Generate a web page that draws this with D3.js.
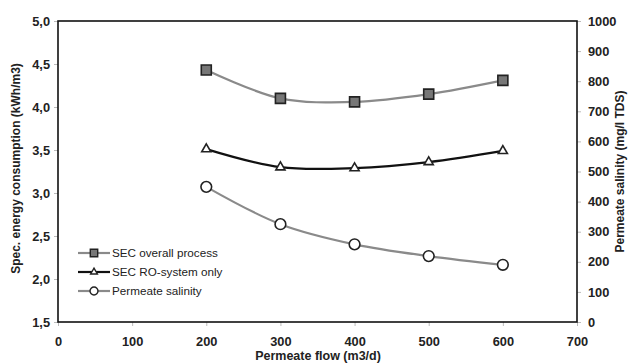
<!DOCTYPE html>
<html>
<head>
<meta charset="utf-8">
<script src="https://cdn.jsdelivr.net/npm/d3@7"></script>
<style>
  body { margin: 0; background: #fff; }
  svg { display: block; font-family: "Liberation Sans", Arial, sans-serif; }
</style>
</head>
<body>
<svg id="chart" width="631" height="363"></svg>
<script>
// data
const flow = [200, 300, 400, 500, 600];
const secOverall = [4.43, 4.10, 4.06, 4.15, 4.31];
const secRO = [3.51, 3.30, 3.29, 3.36, 3.49];
const salinity = [449, 325, 258, 219, 190];

const xTicks = [0, 100, 200, 300, 400, 500, 600, 700];
const yLeftTicks = [1.5, 2.0, 2.5, 3.0, 3.5, 4.0, 4.5, 5.0];
const yRightTicks = [0, 100, 200, 300, 400, 500, 600, 700, 800, 900, 1000];

const legendNames = ["SEC overall process", "SEC RO-system only", "Permeate salinity"];

const width = 631, height = 363;
const margin = {top: 21, right: 54, bottom: 41, left: 58};

const svg = d3.select("#chart");

const x = d3.scaleLinear().domain([0, 700]).range([margin.left, width - margin.right]);
const yL = d3.scaleLinear().domain([1.5, 5]).range([height - margin.bottom, margin.top]);
const yR = d3.scaleLinear().domain([0, 1000]).range([height - margin.bottom, margin.top]);

const fmtComma = d => d3.format(".1f")(d).replace(".", ",");

// axes
const axB = svg.append("g")
    .attr("transform", `translate(0,${height - margin.bottom})`)
    .call(d3.axisBottom(x).tickValues(xTicks).tickSize(4).tickPadding(11));
const axL = svg.append("g")
    .attr("transform", `translate(${margin.left},0)`)
    .call(d3.axisLeft(yL).tickValues(yLeftTicks).tickFormat(fmtComma).tickSize(4).tickPadding(4));
const axR = svg.append("g")
    .attr("transform", `translate(${width - margin.right},0)`)
    .call(d3.axisRight(yR).tickValues(yRightTicks).tickFormat(d3.format("d")).tickSize(4).tickPadding(7));

[axB, axL, axR].forEach(g => {
  g.select(".domain").remove();
  g.selectAll(".tick line").attr("stroke", "#bbb");
  g.selectAll(".tick text")
      .attr("font-size", 12.8)
      .attr("font-weight", "bold")
      .attr("fill", "#222");
});

// frame
svg.append("rect")
    .attr("x", margin.left)
    .attr("y", margin.top)
    .attr("width", width - margin.left - margin.right)
    .attr("height", height - margin.top - margin.bottom)
    .attr("fill", "none")
    .attr("stroke", "#111")
    .attr("stroke-width", 1.6);

// axis titles
svg.append("text")
    .attr("transform", `translate(20,${(margin.top + height - margin.bottom) / 2 - 3}) rotate(-90)`)
    .attr("text-anchor", "middle")
    .attr("font-size", 12)
    .attr("font-weight", "bold")
    .attr("fill", "#222")
    .text("Spec. energy consumption (kWh/m3)");

svg.append("text")
    .attr("transform", `translate(624,${(margin.top + height - margin.bottom) / 2}) rotate(-90)`)
    .attr("text-anchor", "middle")
    .attr("font-size", 12)
    .attr("font-weight", "bold")
    .attr("fill", "#222")
    .text("Permeate salinity (mg/l TDS)");

svg.append("text")
    .attr("x", 318)
    .attr("y", 360)
    .attr("text-anchor", "middle")
    .attr("font-size", 12.5)
    .attr("font-weight", "bold")
    .attr("fill", "#222")
    .text("Permeate flow (m3/d)");

// series
const series = [
  {vals: secOverall, y: yL, stroke: "#8a8a8a", marker: "square", fill: "#777"},
  {vals: secRO, y: yL, stroke: "#111", marker: "triangle", fill: "#fff"},
  {vals: salinity, y: yR, stroke: "#8a8a8a", marker: "circle", fill: "#fff"}
];

const symbolOf = {square: d3.symbolSquare, triangle: d3.symbolTriangle, circle: d3.symbolCircle};
const sizeOf = {square: 100, triangle: 36, circle: 90};

series.forEach(s => {
  const line = d3.line()
      .x((d, i) => x(flow[i]))
      .y(d => s.y(d))
      .curve(d3.curveCatmullRom.alpha(0.5));
  svg.append("path")
      .datum(s.vals)
      .attr("fill", "none")
      .attr("stroke", s.stroke)
      .attr("stroke-width", 2.2)
      .attr("d", line);
  svg.append("g")
      .selectAll("path")
      .data(s.vals)
      .join("path")
      .attr("transform", (d, i) => `translate(${x(flow[i])},${s.y(d)})`)
      .attr("d", d3.symbol(symbolOf[s.marker], sizeOf[s.marker]))
      .attr("fill", s.fill)
      .attr("stroke", "#222")
      .attr("stroke-width", 1.6);
});

// legend
const legend = svg.append("g").attr("transform", "translate(78,253)");
series.forEach((s, i) => {
  const g = legend.append("g").attr("transform", `translate(0,${i * 19})`);
  g.append("line")
      .attr("x1", 0).attr("x2", 32)
      .attr("stroke", s.stroke)
      .attr("stroke-width", 2.2);
  g.append("path")
      .attr("transform", "translate(16,0)")
      .attr("d", d3.symbol(symbolOf[s.marker], sizeOf[s.marker] * 0.55))
      .attr("fill", s.fill)
      .attr("stroke", "#222")
      .attr("stroke-width", 1.4);
  g.append("text")
      .attr("x", 34)
      .attr("dy", "0.35em")
      .attr("font-size", 11.7)
      .attr("fill", "#222")
      .text(legendNames[i]);
});
</script>
</body>
</html>
